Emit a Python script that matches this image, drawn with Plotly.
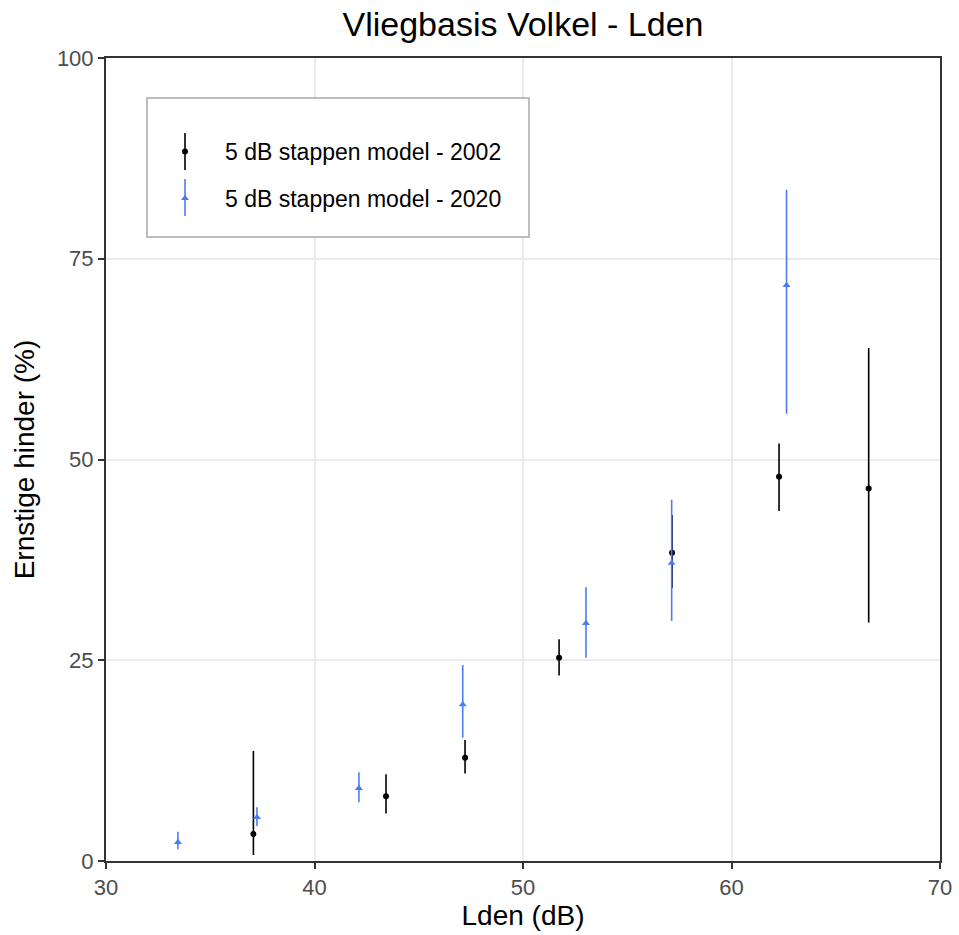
import plotly.graph_objects as go

# 2002 model
x2002 = [37.07, 43.43, 47.22, 51.73, 57.15, 62.28, 66.58]
y2002 = [3.36, 8.06, 12.87, 25.3, 38.4, 47.86, 46.4]
lo2002 = [0.75, 5.9, 10.9, 23.1, 34.0, 43.6, 29.7]
hi2002 = [13.7, 10.8, 15.07, 27.6, 43.1, 52.0, 63.9]

# 2020 model
x2020 = [33.45, 37.24, 42.13, 47.11, 53.02, 57.13, 62.64]
y2020 = [2.33, 5.44, 9.05, 19.5, 29.6, 37.1, 71.7]
lo2020 = [1.46, 4.36, 7.31, 15.36, 25.3, 29.9, 55.7]
hi2020 = [3.65, 6.68, 11.05, 24.4, 34.1, 45.0, 83.6]

xticks = [30, 40, 50, 60, 70]
yticks = [0, 25, 50, 75, 100]

BLUE = "#4C7BF4"

def err(y, lo, hi):
    return dict(type="data", symmetric=False,
                array=[h - v for v, h in zip(y, hi)],
                arrayminus=[v - l for v, l in zip(y, lo)],
                thickness=1.6, width=0)

fig = go.Figure()
fig.add_trace(go.Scatter(
    x=x2002, y=y2002, mode="markers", name="5 dB stappen model - 2002",
    marker=dict(color="black", size=6, symbol="circle"),
    error_y=dict(color="black", **err(y2002, lo2002, hi2002)),
    legendgroup="a"))
fig.add_trace(go.Scatter(
    x=x2020, y=y2020, mode="markers", name="5 dB stappen model - 2020",
    marker=dict(color=BLUE, size=7, symbol="triangle-up"),
    error_y=dict(color=BLUE, **err(y2020, lo2020, hi2020)),
    legendgroup="b"))

# body margin is removed by post_script, so figure coords == screen coords
W, H = 959, 935
PL, PR, PT, PB = 106, 940, 58, 861  # plot area
L, T, R, B = PL, PT, W - PR, H - PB
pw, ph = PR - PL, PB - PT

def px(sx):
    return (sx - PL) / pw

def py(sy):
    return (PB - sy) / ph

shapes = [
    dict(type="rect", xref="paper", yref="paper",
         x0=px(147), x1=px(529), y0=py(237), y1=py(98),
         line=dict(color="#bdbdbd", width=2), fillcolor="white", layer="above"),
    dict(type="line", xref="paper", yref="paper",
         x0=px(185), x1=px(185), y0=py(170), y1=py(133),
         line=dict(color="black", width=1.6), layer="above"),
    dict(type="line", xref="paper", yref="paper",
         x0=px(185), x1=px(185), y0=py(216), y1=py(179),
         line=dict(color=BLUE, width=1.6), layer="above"),
]

axis_common = dict(
    showgrid=True, gridcolor="#ebebeb", gridwidth=2, zeroline=False,
    showline=True, linecolor="#333333", linewidth=2, mirror=True,
    ticks="outside", ticklen=6, tickcolor="#333333", tickwidth=2,
    tickfont=dict(size=22, color="#4d4d4d"), automargin=False,
)

fig.update_layout(
    width=W, height=H, autosize=False,
    margin=dict(l=L, r=R, t=T, b=B, pad=0),
    paper_bgcolor="white", plot_bgcolor="white",
    font=dict(family="Liberation Sans, Arial, sans-serif", color="black"),
    title=dict(text="Vliegbasis Volkel - Lden", x=523 / W, xanchor="center",
               y=1.0 - 12 / H, yanchor="top", pad=dict(t=0, b=0),
               font=dict(size=34, color="black")),
    xaxis=dict(range=[30, 70], tickvals=xticks, ticktext=[str(t) for t in xticks],
               title=dict(text="Lden (dB)", font=dict(size=28), standoff=6),
               **axis_common),
    yaxis=dict(range=[0, 100], tickvals=yticks, ticktext=[str(t) for t in yticks],
               title=dict(text="Ernstige hinder (%)", font=dict(size=28), standoff=14),
               **axis_common),
    showlegend=True,
    legend=dict(x=px(145), y=py(130), xanchor="left", yanchor="top",
                bgcolor="rgba(0,0,0,0)", borderwidth=0,
                font=dict(size=23, color="black"), tracegroupgap=14,
                itemsizing="trace", itemwidth=70),
    shapes=shapes,
)

fig.write_html("out.html",
               config={"displayModeBar": False},
               post_script="document.body.style.margin='0';document.body.style.overflow='hidden';")
